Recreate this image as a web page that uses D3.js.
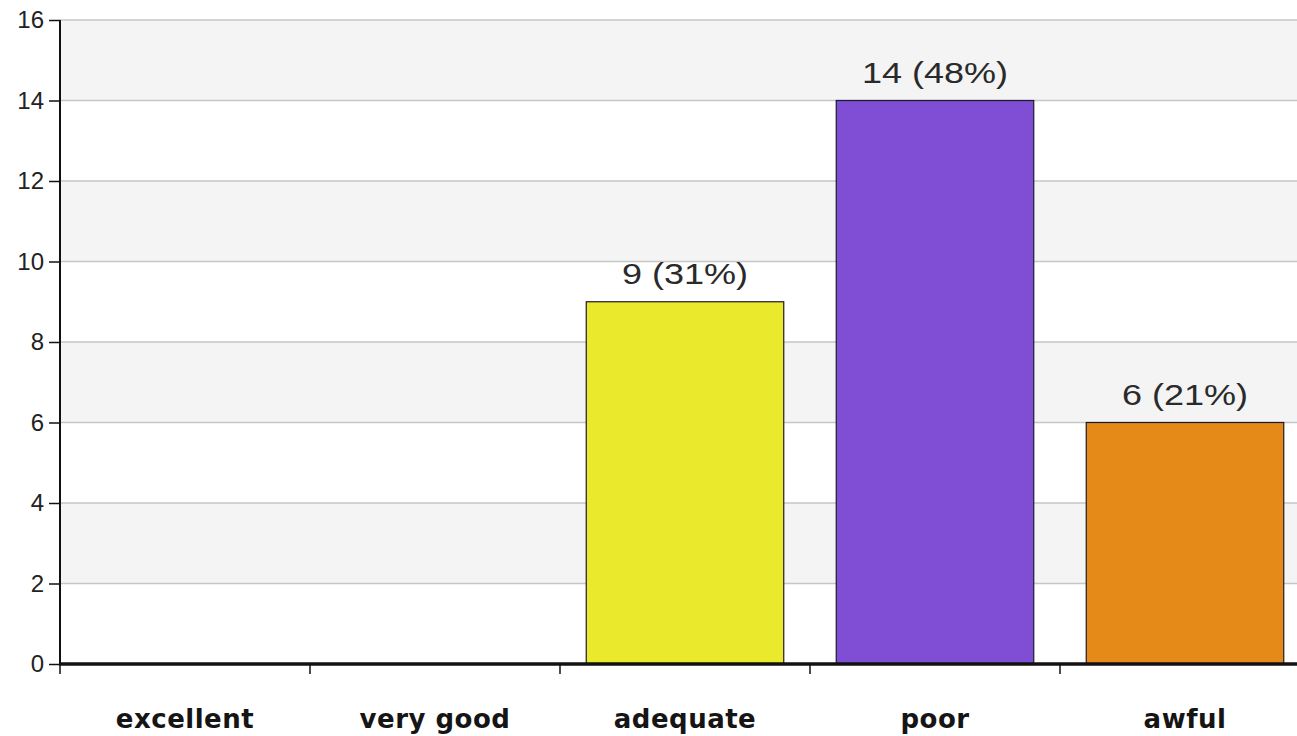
<!DOCTYPE html>
<html>
<head>
<meta charset="utf-8">
<script src="https://cdn.jsdelivr.net/npm/d3@7"></script>
<style>
  html, body { margin: 0; padding: 0; background: #ffffff; }
  svg { display: block; }
</style>
</head>
<body>
<svg id="chart" width="1297" height="736"></svg>
<script>
// Survey responses per rating
const categories = ["excellent", "very good", "adequate", "poor", "awful"];
const counts = [0, 0, 9, 14, 6];
const percents = [0, 0, 31, 48, 21];
const barColors = ["#3a6fd8", "#2fa84f", "#ebe92b", "#7f4ed5", "#e58a19"];
const yTicks = [0, 2, 4, 6, 8, 10, 12, 14, 16];

const svg = d3.select("#chart");
const plotLeft = 60, plotTop = 20, plotBottom = 664, plotRight = 1310;

const x = d3.scaleBand()
  .domain(categories)
  .range([plotLeft, plotRight])
  .paddingInner(0.21)
  .paddingOuter(0.105);

const y = d3.scaleLinear().domain([0, 16]).range([plotBottom, plotTop]);

// alternating background bands
const bands = d3.range(0, 16, 2).filter(v => (v / 2) % 2 === 1);
svg.append("g").selectAll("rect")
  .data(bands)
  .join("rect")
  .attr("x", plotLeft)
  .attr("width", plotRight - plotLeft)
  .attr("y", d => y(d + 2))
  .attr("height", d => y(d) - y(d + 2))
  .attr("fill", "#f4f4f4");

// horizontal grid lines
svg.append("g").selectAll("line")
  .data(yTicks.filter(d => d > 0))
  .join("line")
  .attr("x1", plotLeft)
  .attr("x2", plotRight)
  .attr("y1", d => y(d))
  .attr("y2", d => y(d))
  .attr("stroke", "#c6c6c6")
  .attr("stroke-width", 1.5);

// bars
const rows = categories.map((c, i) => ({ c, v: counts[i], p: percents[i], color: barColors[i] }));
svg.append("g").selectAll("rect")
  .data(rows.filter(d => d.v > 0))
  .join("rect")
  .attr("x", d => x(d.c))
  .attr("width", x.bandwidth())
  .attr("y", d => y(d.v))
  .attr("height", d => y(0) - y(d.v))
  .attr("fill", d => d.color)
  .attr("stroke", "#1a1a2a")
  .attr("stroke-width", 1.2);

// value labels
svg.append("g").selectAll("text")
  .data(rows.filter(d => d.v > 0))
  .join("text")
  .attr("transform", d => `translate(${x(d.c) + x.bandwidth() / 2},${y(d.v) - 18}) scale(1.2,1)`)
  .attr("text-anchor", "middle")
  .style("font-family", "'Liberation Sans', Arial, sans-serif")
  .style("font-size", "30px")
  .attr("fill", "#2a2a2a")
  .text(d => `${d.v} (${d.p}%)`);

// y axis
const yAxis = svg.append("g")
  .attr("transform", `translate(${plotLeft},0)`)
  .call(d3.axisLeft(y).tickValues(yTicks).tickSize(11).tickPadding(5).tickFormat(d3.format("d")));
yAxis.select(".domain").attr("stroke", "#111").attr("stroke-width", 2).attr("d", `M0,${plotTop}V${plotBottom}`);
yAxis.selectAll(".tick line").attr("stroke", "#111").attr("stroke-width", 1.5);
yAxis.selectAll(".tick text")
  .style("font-family", "'Liberation Sans', Arial, sans-serif")
  .style("font-size", "24px")
  .attr("fill", "#222");

// x axis
const xTickPos = d3.range(categories.length).map(i => plotLeft + i * x.step());
const xAxis = svg.append("g").attr("transform", `translate(0,${plotBottom})`);
xAxis.append("line")
  .attr("x1", plotLeft - 1).attr("x2", plotRight)
  .attr("stroke", "#111").attr("stroke-width", 3.5);
xAxis.selectAll("line.tick")
  .data(xTickPos)
  .join("line")
  .attr("class", "tick")
  .attr("x1", d => d).attr("x2", d => d)
  .attr("y1", 0).attr("y2", 10)
  .attr("stroke", "#111").attr("stroke-width", 1.5);
xAxis.selectAll("text")
  .data(categories)
  .join("text")
  .attr("x", d => x(d) + x.bandwidth() / 2)
  .attr("y", 64)
  .attr("text-anchor", "middle")
  .style("font-family", "'DejaVu Sans', Verdana, sans-serif")
  .style("font-weight", "bold")
  .style("font-size", "26px")
  .style("letter-spacing", "0.5px")
  .attr("fill", "#151515")
  .text(d => d);
</script>
</body>
</html>
